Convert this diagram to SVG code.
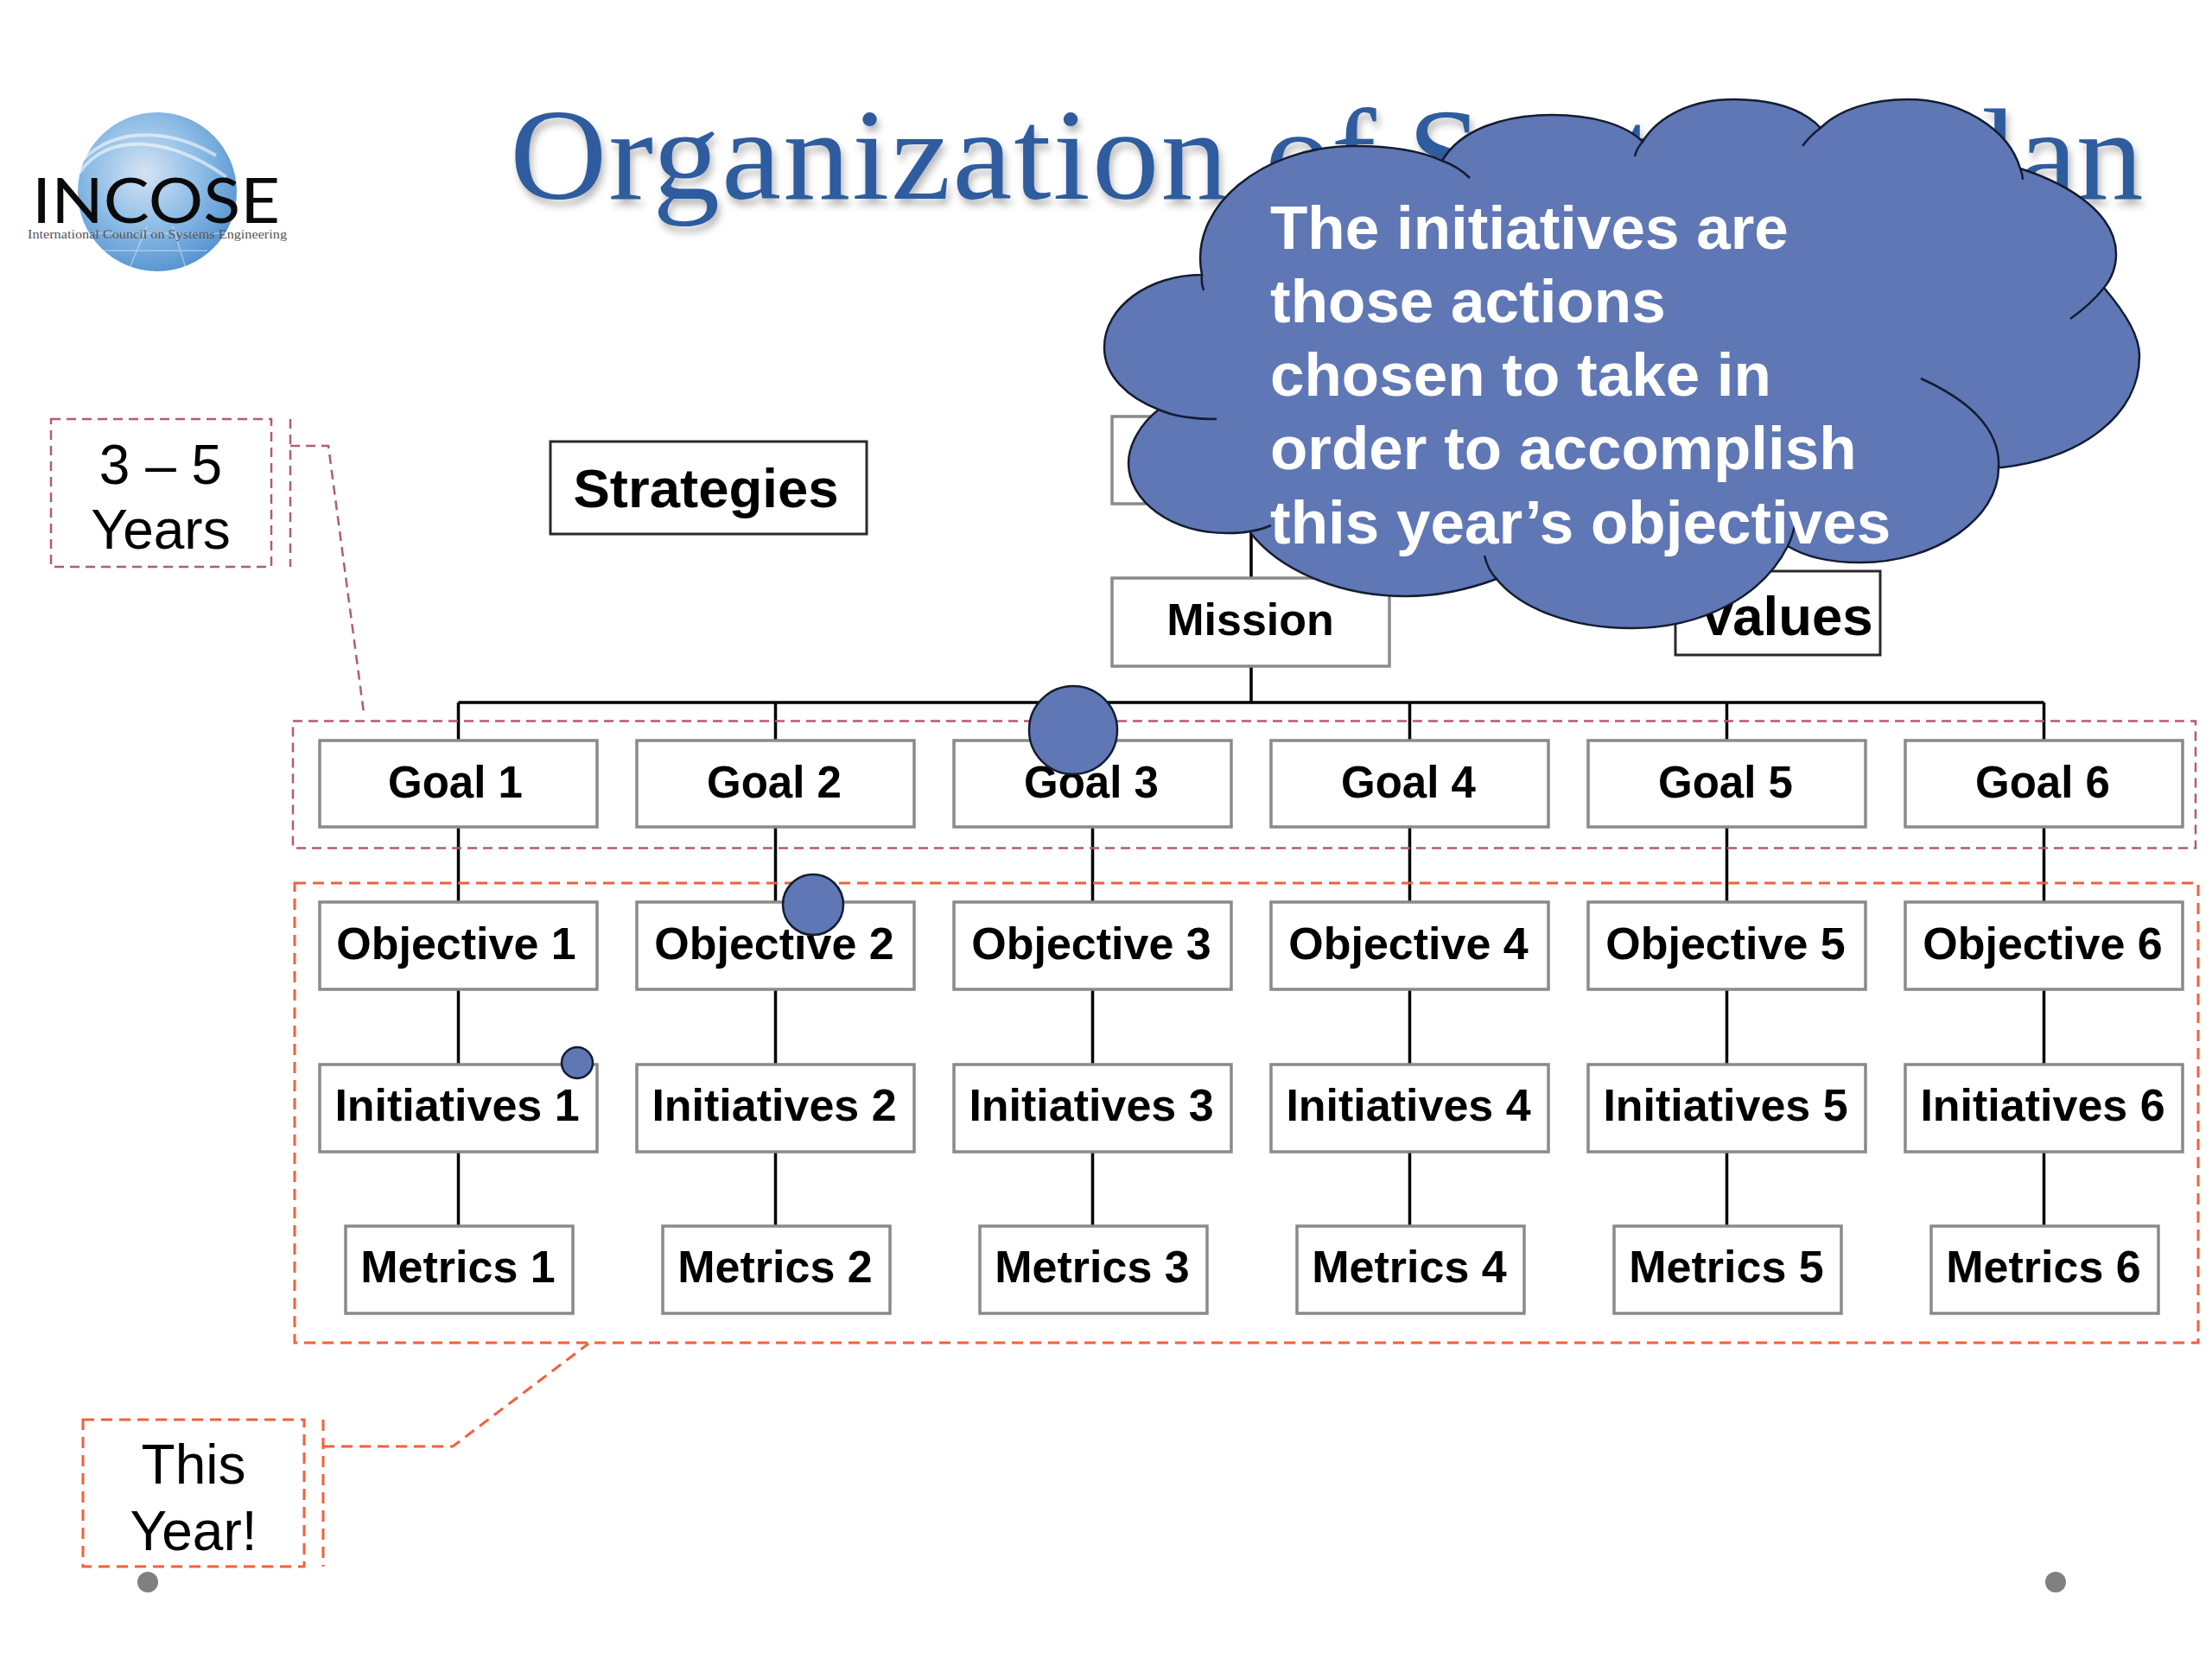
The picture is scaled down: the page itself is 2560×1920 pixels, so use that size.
<svg xmlns="http://www.w3.org/2000/svg" width="2560" height="1920" viewBox="0 0 2560 1920">
<style>
text{font-family:"Liberation Sans",Arial,sans-serif}
.b{fill:#fff;stroke:#8a8a8a;stroke-width:3.5}
.d{fill:#fff;stroke:#2a2a2a;stroke-width:3}
.t{font-size:52px;font-weight:700;fill:#000;text-anchor:middle}
.c{stroke:#000;stroke-width:3.5;fill:none}
.m{fill:none;stroke:#b25c70;stroke-width:2.5;stroke-dasharray:11 7}
.o{fill:none;stroke:#f2603c;stroke-width:3;stroke-dasharray:13 8}
.s{font-size:64px;fill:#000;text-anchor:middle}
.w{font-size:71px;font-weight:700;fill:#fff}
.dot{fill:#5f77b5;stroke:#141c30;stroke-width:2.5}
.cloud{fill:#5f77b5;stroke:#141c30;stroke-width:2.5}
.tail{fill:none;stroke:#141c30;stroke-width:2.5}
.g{fill:#808080}
</style>
<defs>
<radialGradient id="globe" cx="0.42" cy="0.38" r="0.68">
<stop offset="0" stop-color="#d4e4f4"/><stop offset="0.5" stop-color="#8fbde6"/><stop offset="1" stop-color="#4f8fcf"/>
</radialGradient>
<filter id="sh" x="-5%" y="-20%" width="110%" height="150%"><feDropShadow dx="3" dy="7" stdDeviation="4" flood-color="#000" flood-opacity="0.28"/></filter>
</defs>
<rect width="2560" height="1920" fill="#fff"/>

<g id="logo">
<circle cx="182" cy="222" r="92" fill="url(#globe)"/>
<path d="M92 200C125 150 200 160 262 205M96 185C135 145 200 150 250 180" fill="none" stroke="#fff" stroke-opacity=".55" stroke-width="4"/>
<path d="M120 290L240 290M105 270L262 270M150 310L170 262M215 310L200 262" fill="none" stroke="#fff" stroke-opacity=".4" stroke-width="1.5"/>
<text x="37" y="258" font-size="72" textLength="287" lengthAdjust="spacingAndGlyphs" style="font-family:Lato,'Liberation Sans',sans-serif" fill="#0a0a0a">INCOSE</text>
<text x="32" y="276" font-size="14" textLength="300" lengthAdjust="spacingAndGlyphs" style="font-family:'Liberation Serif',serif" fill="#555">International Council on Systems Engineering</text>
</g>

<text id="title" transform="translate(590 230) scale(1.0376 1)" font-size="150" fill="#2f5c9e" filter="url(#sh)" style="font-family:'Liberation Serif',serif"><tspan letter-spacing="1.9">Organization </tspan><tspan letter-spacing="-1.25">of Strategic Plan</tspan></text>

<g id="connectors">
<path class="c" d="M1448 583V813M530.5 813H2365.5"/>
<path class="c" d="M530.5 813V1419M897.5 813V1419M1264.5 813V1419M1631.5 813V1419M1998.5 813V1419M2365.5 813V1419"/>
</g>

<g id="range-3-5">
<rect class="m" x="59" y="485" width="255" height="171"/>
<path class="m" d="M336 485V656M336 516H380L421 825"/>
<rect class="m" x="339" y="834.5" width="2202" height="147"/>
<text class="s" x="186" y="560">3 – 5</text>
<text class="s" x="186" y="635">Years</text>
</g>

<g id="range-this-year">
<rect class="o" x="341" y="1022" width="2203" height="532"/>
<rect class="o" x="96" y="1643" width="256" height="170"/>
<path class="o" d="M374 1643V1813M374 1674H524L681 1555"/>
<text class="s" x="224" y="1717">This</text>
<text class="s" x="224" y="1794">Year!</text>
</g>

<g id="strategies"><rect class="d" x="637" y="511" width="366" height="107"/><text class="t" style="font-size:63.5px" x="817" y="587">Strategies</text></g>
<g id="hidden-box"><rect class="b" x="1287" y="482" width="321" height="101"/></g>
<g id="mission"><rect class="b" x="1287" y="669" width="321" height="102"/><text class="t" x="1447" y="735">Mission</text></g>
<g id="values"><rect class="d" x="1939" y="661" width="237" height="97"/><text class="t" style="font-size:63.5px" x="2067" y="735">Values</text></g>

<g id="goal-1"><rect class="b" x="370" y="857" width="321" height="100"/><text class="t" style="font-size:51px" x="527" y="923">Goal 1</text></g>
<g id="goal-2"><rect class="b" x="737" y="857" width="321" height="100"/><text class="t" style="font-size:51px" x="896" y="923">Goal 2</text></g>
<g id="goal-3"><rect class="b" x="1104" y="857" width="321" height="100"/><text class="t" style="font-size:51px" x="1263" y="923">Goal 3</text></g>
<g id="goal-4"><rect class="b" x="1471" y="857" width="321" height="100"/><text class="t" style="font-size:51px" x="1630" y="923">Goal 4</text></g>
<g id="goal-5"><rect class="b" x="1838" y="857" width="321" height="100"/><text class="t" style="font-size:51px" x="1997" y="923">Goal 5</text></g>
<g id="goal-6"><rect class="b" x="2205" y="857" width="321" height="100"/><text class="t" style="font-size:51px" x="2364" y="923">Goal 6</text></g>

<g id="objective-1"><rect class="b" x="370" y="1044" width="321" height="101"/><text class="t" x="528" y="1110">Objective 1</text></g>
<g id="objective-2"><rect class="b" x="737" y="1044" width="321" height="101"/><text class="t" x="896" y="1110">Objective 2</text></g>
<g id="objective-3"><rect class="b" x="1104" y="1044" width="321" height="101"/><text class="t" x="1263" y="1110">Objective 3</text></g>
<g id="objective-4"><rect class="b" x="1471" y="1044" width="321" height="101"/><text class="t" x="1630" y="1110">Objective 4</text></g>
<g id="objective-5"><rect class="b" x="1838" y="1044" width="321" height="101"/><text class="t" x="1997" y="1110">Objective 5</text></g>
<g id="objective-6"><rect class="b" x="2205" y="1044" width="321" height="101"/><text class="t" x="2364" y="1110">Objective 6</text></g>

<g id="initiatives-1"><rect class="b" x="370" y="1232" width="321" height="101"/><text class="t" x="529" y="1297">Initiatives 1</text></g>
<g id="initiatives-2"><rect class="b" x="737" y="1232" width="321" height="101"/><text class="t" x="896" y="1297">Initiatives 2</text></g>
<g id="initiatives-3"><rect class="b" x="1104" y="1232" width="321" height="101"/><text class="t" x="1263" y="1297">Initiatives 3</text></g>
<g id="initiatives-4"><rect class="b" x="1471" y="1232" width="321" height="101"/><text class="t" x="1630" y="1297">Initiatives 4</text></g>
<g id="initiatives-5"><rect class="b" x="1838" y="1232" width="321" height="101"/><text class="t" x="1997" y="1297">Initiatives 5</text></g>
<g id="initiatives-6"><rect class="b" x="2205" y="1232" width="321" height="101"/><text class="t" x="2364" y="1297">Initiatives 6</text></g>

<g id="metrics-1"><rect class="b" x="400" y="1419" width="263" height="101"/><text class="t" x="530" y="1484">Metrics 1</text></g>
<g id="metrics-2"><rect class="b" x="767" y="1419" width="263" height="101"/><text class="t" x="897" y="1484">Metrics 2</text></g>
<g id="metrics-3"><rect class="b" x="1134" y="1419" width="263" height="101"/><text class="t" x="1264" y="1484">Metrics 3</text></g>
<g id="metrics-4"><rect class="b" x="1501" y="1419" width="263" height="101"/><text class="t" x="1631" y="1484">Metrics 4</text></g>
<g id="metrics-5"><rect class="b" x="1868" y="1419" width="263" height="101"/><text class="t" x="1998" y="1484">Metrics 5</text></g>
<g id="metrics-6"><rect class="b" x="2235" y="1419" width="263" height="101"/><text class="t" x="2365" y="1484">Metrics 6</text></g>

<g id="circles">
<circle class="dot" cx="1242" cy="845" r="51"/>
<circle class="dot" cx="941" cy="1047" r="35"/>
<circle class="dot" cx="668" cy="1230" r="18"/>
</g>

<g id="cloud">
<path class="cloud" d="M1391 318C1375 240 1460 169 1568 169C1610 169 1645 175 1669 186C1690 150 1740 133 1796 133C1840 133 1880 143 1901 164C1920 133 1960 115 2006 115C2050 115 2085 125 2107 148C2130 125 2170 115 2208 115C2270 115 2325 150 2338 195C2400 215 2449 250 2449 294C2449 310 2444 322 2435 333C2462 365 2476 390 2476 412C2476 480 2410 530 2317 541L2313 541C2313 600 2240 651 2153 651C2120 651 2090 645 2069 632C2040 690 1970 727 1888 727C1820 727 1760 705 1732 670C1700 682 1665 690 1627 690C1550 690 1480 660 1446 615C1438 617 1430 617 1421 617C1355 617 1306 580 1306 536C1306 515 1320 490 1341 474C1305 460 1278 435 1278 402C1278 355 1330 318 1391 318Z"/>
<path class="tail" d="M1391 318Q1390 328 1393 336M1669 186Q1688 193 1701 206M1901 164Q1894 172 1892 181M2107 148Q2095 157 2086 169M2338 195Q2341 202 2341 208M2435 333Q2420 352 2396 369M2223 438Q2316 480 2313 541M2069 632Q2076 618 2079 598M1732 670Q1722 660 1718 643M1446 615Q1460 613 1471 608M1341 474Q1365 485 1408 485"/>
<text class="w" x="1470" y="288">The initiatives are</text>
<text class="w" x="1470" y="373">those actions</text>
<text class="w" x="1470" y="458">chosen to take in</text>
<text class="w" x="1470" y="543">order to accomplish</text>
<text class="w" x="1470" y="629">this year’s objectives</text>
</g>

<g id="page-dots">
<circle class="g" cx="171" cy="1831" r="12"/>
<circle class="g" cx="2379" cy="1831" r="12"/>
</g>
</svg>
